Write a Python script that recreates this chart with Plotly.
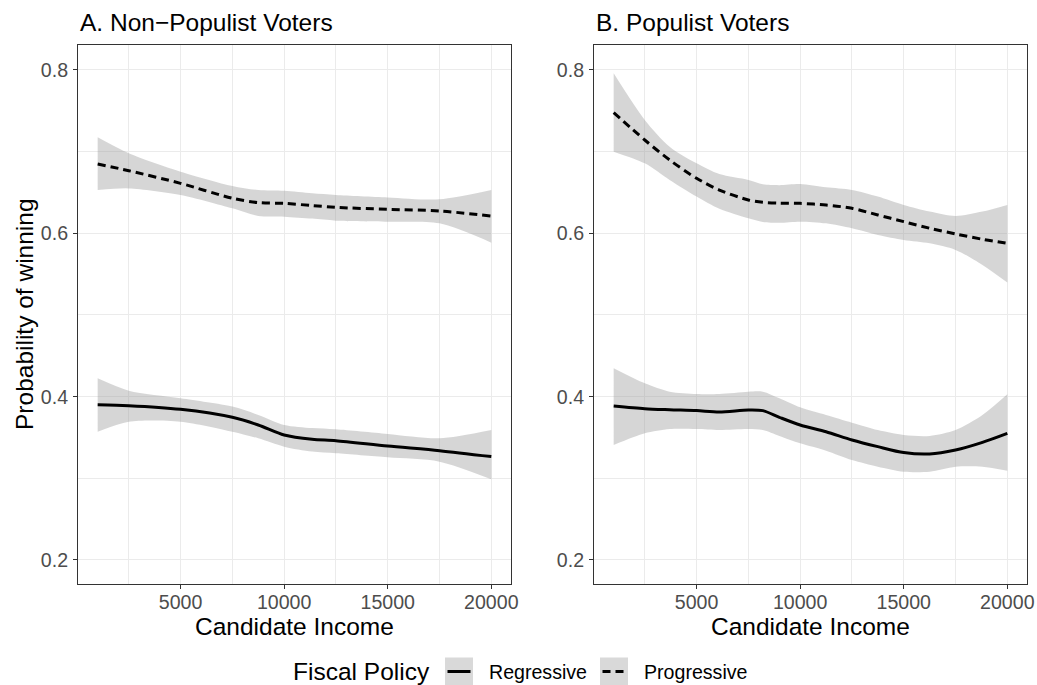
import plotly.graph_objects as go

# ---------------- data ----------------
A_x = [1000, 2500, 5000, 7500, 8750, 10000, 11350, 12500, 15000, 17500, 20000]
A_reg = [0.390, 0.389, 0.3845, 0.3747, 0.3653, 0.353, 0.3478, 0.3461, 0.3396, 0.3339, 0.3266]
A_reg_hi = [0.4224, 0.4073, 0.398, 0.3878, 0.3776, 0.3653, 0.3615, 0.360, 0.3543, 0.349, 0.3592]
A_reg_lo = [0.3571, 0.3694, 0.3694, 0.3571, 0.349, 0.3388, 0.3327, 0.3306, 0.3257, 0.3204, 0.2988]
A_prog = [0.6849, 0.6767, 0.6612, 0.6429, 0.6376, 0.6367, 0.634, 0.6318, 0.6294, 0.6274, 0.6212]
A_prog_hi = [0.7175, 0.698, 0.6755, 0.658, 0.653, 0.652, 0.649, 0.647, 0.644, 0.6416, 0.653]
A_prog_lo = [0.653, 0.655, 0.647, 0.6306, 0.6212, 0.6204, 0.618, 0.6155, 0.6143, 0.6122, 0.5886]

B_x = [1000, 2500, 3700, 5000, 6100, 7500, 8200, 9000, 10000, 11250, 12500, 13750, 15000, 16250, 17500, 18800, 20000]
B_reg = [0.3886, 0.3853, 0.384, 0.3829, 0.3812, 0.3837, 0.3829, 0.3747, 0.3653, 0.3571, 0.347, 0.3388, 0.3315, 0.3298, 0.3347, 0.3441, 0.3551]
B_reg_hi = [0.4347, 0.4163, 0.4061, 0.4033, 0.4033, 0.4061, 0.4061, 0.398, 0.3869, 0.3776, 0.3682, 0.3592, 0.3531, 0.3519, 0.3592, 0.3776, 0.4029]
B_reg_lo = [0.3408, 0.3551, 0.3604, 0.3604, 0.3592, 0.3604, 0.3592, 0.3519, 0.3429, 0.3339, 0.3224, 0.3143, 0.3082, 0.3082, 0.3143, 0.3143, 0.3094]
B_prog = [0.7478, 0.7143, 0.6898, 0.6674, 0.653, 0.6408, 0.638, 0.637, 0.6367, 0.6347, 0.6306, 0.6225, 0.6143, 0.6062, 0.5993, 0.5927, 0.5878]
B_prog_hi = [0.7959, 0.7388, 0.7061, 0.6857, 0.6725, 0.6653, 0.660, 0.659, 0.6604, 0.6563, 0.6531, 0.645, 0.6347, 0.6266, 0.6212, 0.6266, 0.6347]
B_prog_lo = [0.700, 0.6857, 0.6653, 0.645, 0.630, 0.6184, 0.614, 0.613, 0.6143, 0.6122, 0.6061, 0.598, 0.5919, 0.5878, 0.5797, 0.5613, 0.5397]

panel_titles = ["A. Non\u2212Populist Voters", "B. Populist Voters"]
series_names = ["Regressive", "Progressive"]
legend_title = "Fiscal Policy"
x_title = "Candidate Income"
y_title = "Probability of winning"
x_ticks = [5000, 10000, 15000, 20000]
y_ticks = [0.2, 0.4, 0.6, 0.8]

W, H = 1037, 685
FONT = "Liberation Sans, Arial, sans-serif"
FILL = "rgba(153,153,153,0.4)"
KEYFILL = "#d9d9d9"
DASH = {"Regressive": "solid", "Progressive": "8px,5px"}
LW = 3

panels = [
    ("x", "y", A_x, [(A_reg, A_reg_lo, A_reg_hi), (A_prog, A_prog_lo, A_prog_hi)]),
    ("x2", "y2", B_x, [(B_reg, B_reg_lo, B_reg_hi), (B_prog, B_prog_lo, B_prog_hi)]),
]

fig = go.Figure()
# confidence ribbons
for xa, ya, xs, series in panels:
    for (mid, lo, hi) in series:
        fig.add_trace(go.Scatter(x=xs, y=lo, xaxis=xa, yaxis=ya, mode="lines",
                                 line=dict(width=0, shape="spline", smoothing=0.8),
                                 showlegend=False, hoverinfo="skip"))
        fig.add_trace(go.Scatter(x=xs, y=hi, xaxis=xa, yaxis=ya, mode="lines",
                                 line=dict(width=0, shape="spline", smoothing=0.8),
                                 fill="tonexty", fillcolor=FILL,
                                 showlegend=False, hoverinfo="skip"))
# fitted lines
for pi, (xa, ya, xs, series) in enumerate(panels):
    for si, (mid, lo, hi) in enumerate(series):
        name = series_names[si]
        fig.add_trace(go.Scatter(x=xs, y=mid, xaxis=xa, yaxis=ya, mode="lines", name=name,
                                 line=dict(color="black", width=LW, dash=DASH[name],
                                           shape="spline", smoothing=0.8),
                                 showlegend=False))

def px(v):
    return v / W

def py(v):
    return (H - v) / H

xdom = [[px(78), px(511)], [px(594), px(1027)]]
ydom = [py(584), py(45)]

axis_common = dict(showline=True, linecolor="#333333", linewidth=1, mirror=True,
                   showgrid=True, gridcolor="#ebebeb", gridwidth=1.1,
                   ticks="outside", ticklen=4, tickcolor="#333333", tickwidth=1,
                   tickfont=dict(family=FONT, size=19.6, color="#4d4d4d"),
                   zeroline=False, automargin=False)

layout = dict(
    width=W, height=H,
    paper_bgcolor="white", plot_bgcolor="white",
    margin=dict(l=0, r=0, t=0, b=0),
    font=dict(family=FONT, color="black"),
    showlegend=False,
)
for i, (xn, yn) in enumerate([("xaxis", "yaxis"), ("xaxis2", "yaxis2")]):
    layout[xn] = dict(axis_common, domain=xdom[i], range=[50, 20950],
                      tickvals=x_ticks, ticktext=[str(v) for v in x_ticks],
                      ticklabelstandoff=-4,
                      minor=dict(tickvals=[2500, 7500, 12500, 17500], showgrid=True,
                                 gridcolor="#ebebeb", gridwidth=0.6, ticks=""),
                      anchor="y" if i == 0 else "y2")
    layout[yn] = dict(axis_common, domain=ydom, range=[0.1706, 0.8306],
                      tickvals=y_ticks, ticktext=["0.2", "0.4", "0.6", "0.8"],
                      ticklabelstandoff=1,
                      minor=dict(tickvals=[0.3, 0.5, 0.7], showgrid=True,
                                 gridcolor="#ebebeb", gridwidth=0.6, ticks=""),
                      anchor="x" if i == 0 else "x2")

TF = dict(size=24.5, family=FONT, color="black")
annotations = []
for i, t in enumerate(panel_titles):
    annotations.append(dict(text=t, x=xdom[i][0], y=py(23), xref="paper", yref="paper",
                            xanchor="left", yanchor="middle", showarrow=False, font=TF))
    annotations.append(dict(text=x_title, x=(xdom[i][0] + xdom[i][1]) / 2, y=py(626),
                            xref="paper", yref="paper", xanchor="center", yanchor="middle",
                            showarrow=False, font=TF))
annotations.append(dict(text=y_title, x=px(25), y=py(314), xref="paper", yref="paper",
                        xanchor="center", yanchor="middle", textangle=-90,
                        showarrow=False, font=TF))

# manual legend (ggplot-style keys with grey background)
LEG_Y = 671.5
annotations.append(dict(text=legend_title, x=px(291), y=py(LEG_Y), xref="paper", yref="paper",
                        xanchor="left", yanchor="middle", showarrow=False, font=TF))
key_left = [445, 600]
label_left = [486.5, 641.5]
shapes = []
for k, name in enumerate(series_names):
    x0 = key_left[k]
    shapes.append(dict(type="rect", xref="paper", yref="paper",
                       x0=px(x0), x1=px(x0 + 28), y0=py(LEG_Y + 14), y1=py(LEG_Y - 14),
                       fillcolor=KEYFILL, line=dict(width=0), layer="above"))
    shapes.append(dict(type="line", xref="paper", yref="paper",
                       x0=px(x0 + 2.5), x1=px(x0 + 25.5), y0=py(LEG_Y), y1=py(LEG_Y),
                       line=dict(color="black", width=LW, dash=DASH[name]), layer="above"))
    annotations.append(dict(text=name, x=px(label_left[k]), y=py(LEG_Y), xref="paper",
                            yref="paper", xanchor="left", yanchor="middle", showarrow=False,
                            font=dict(size=19.6, family=FONT, color="black")))

layout["annotations"] = annotations
layout["shapes"] = shapes

fig.update_layout(**layout)
fig.write_html("out.html", config={"displayModeBar": False},
               post_script="document.body.style.margin='0px';document.body.style.overflow='hidden';")
